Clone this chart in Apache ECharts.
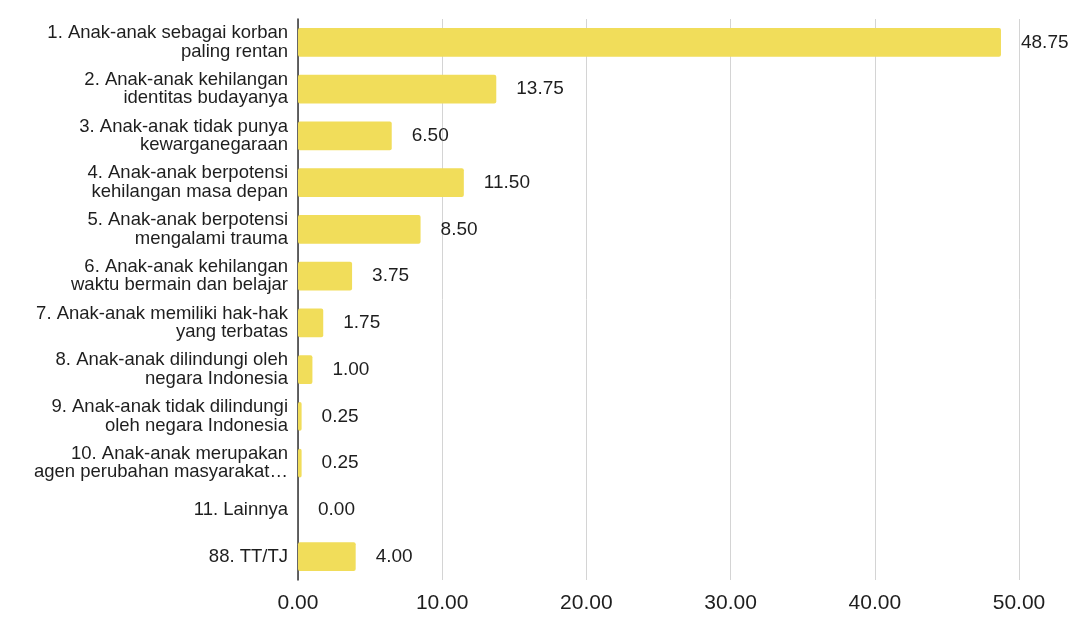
<!DOCTYPE html>
<html>
<head>
<meta charset="utf-8">
<script src="https://cdn.jsdelivr.net/npm/echarts@6/dist/echarts.min.js"></script>
<style>
  html, body { margin: 0; padding: 0; background: #ffffff; }
  #chart { width: 1078px; height: 619px; }
</style>
</head>
<body>
<div id="chart"></div>
<script>
// Answer categories (top to bottom)
const categories = [
  '1. Anak-anak sebagai korban\npaling rentan',
  '2. Anak-anak kehilangan\nidentitas budayanya',
  '3. Anak-anak tidak punya\nkewarganegaraan',
  '4. Anak-anak berpotensi\nkehilangan masa depan',
  '5. Anak-anak berpotensi\nmengalami trauma',
  '6. Anak-anak kehilangan\nwaktu bermain dan belajar',
  '7. Anak-anak memiliki hak-hak\nyang terbatas',
  '8. Anak-anak dilindungi oleh\nnegara Indonesia',
  '9. Anak-anak tidak dilindungi\noleh negara Indonesia',
  '10. Anak-anak merupakan\nagen perubahan masyarakat…',
  '11. Lainnya',
  '88. TT/TJ'
];

// Percentage of respondents per answer
const values = [48.75, 13.75, 6.50, 11.50, 8.50, 3.75, 1.75, 1.00, 0.25, 0.25, 0.00, 4.00];

// Value axis range and ticks
const axisMin = 0;
const axisMax = 50;
const axisStep = 10;

const FONT = '"Liberation Sans", Arial, Helvetica, sans-serif';

const chart = echarts.init(document.getElementById('chart'), null, { renderer: 'canvas' });

chart.setOption({
  animation: false,
  backgroundColor: '#ffffff',
  grid: { left: 298, right: 59, top: 19, bottom: 39, containLabel: false },
  xAxis: {
    type: 'value',
    min: axisMin,
    max: axisMax,
    interval: axisStep,
    axisLine: { show: false },
    axisTick: { show: false },
    axisLabel: {
      margin: 13,
      fontFamily: FONT,
      fontSize: 21,
      color: '#1e1e1e',
      formatter: v => v.toFixed(2)
    },
    splitLine: { show: true, lineStyle: { color: '#d4d4d4', width: 1 } }
  },
  yAxis: {
    type: 'category',
    data: categories,
    inverse: true,
    axisLine: { show: true, lineStyle: { color: '#333333', width: 1.5 } },
    axisTick: { show: false },
    axisLabel: {
      margin: 10,
      fontFamily: FONT,
      fontSize: 18.5,
      lineHeight: 18.5,
      color: '#1e1e1e',
      align: 'right'
    }
  },
  series: [{
    type: 'bar',
    data: values,
    barCategoryGap: '38%',
    itemStyle: { color: '#F1DD5A', borderRadius: 2 },
    label: {
      show: true,
      position: 'right',
      distance: 20,
      fontFamily: FONT,
      fontSize: 19,
      color: '#1e1e1e',
      formatter: p => p.value.toFixed(2)
    }
  }]
});
</script>
</body>
</html>
